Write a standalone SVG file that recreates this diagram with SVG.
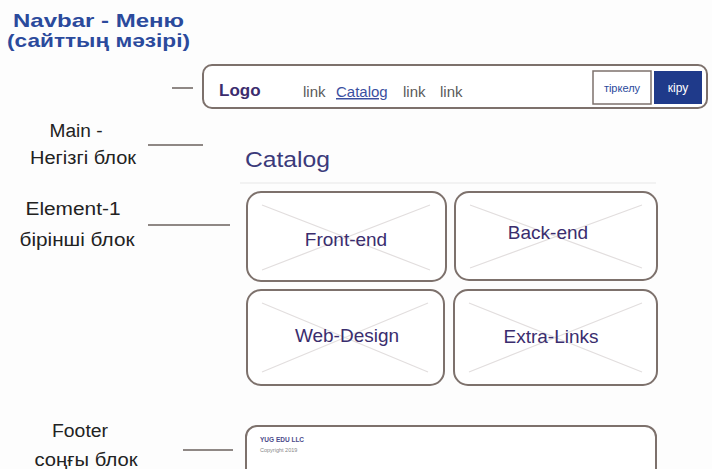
<svg xmlns="http://www.w3.org/2000/svg" width="712" height="469" viewBox="0 0 712 469">
<style>
.box{fill:#fff;stroke:#7d716c;stroke-width:2}
.x{stroke:#e2dede;stroke-width:1.2}
.lbl{font-family:"Liberation Sans",Arial,sans-serif;font-size:18px;fill:#222;text-anchor:middle}
.card{font-family:"Liberation Sans",Arial,sans-serif;font-size:19px;fill:#3a2d6e;text-anchor:middle}
.link{font-family:"Liberation Sans",Arial,sans-serif;font-size:15px;fill:#5a5a5a}
.conn{stroke:#6a605c;stroke-width:1.5}
.ttl{font-family:"Liberation Sans",Arial,sans-serif;font-size:19px;font-weight:bold;fill:#2b4a9c}
</style>
<rect width="712" height="469" fill="#fdfdfd"/>
<g id="title">
<text class="ttl" x="13" y="27" textLength="171" lengthAdjust="spacingAndGlyphs">Navbar - Меню</text>
<text class="ttl" x="7" y="47" textLength="183" lengthAdjust="spacingAndGlyphs">(сайттың мәзірі)</text>
</g>
<g id="navbar">
<rect class="box" x="203" y="65" width="504" height="43" rx="9"/>
<text x="219" y="96" font-family="Liberation Sans,Arial,sans-serif" font-size="17" font-weight="bold" fill="#3b2c6e">Logo</text>
<text class="link" x="303" y="97">link</text>
<text class="link" x="336" y="97" style="fill:#3a4fa0" text-decoration="underline">Catalog</text>
<text class="link" x="403" y="97">link</text>
<text class="link" x="440" y="97">link</text>
<rect x="593" y="71" width="58" height="33" fill="#fff" stroke="#7d716c" stroke-width="1.5"/>
<text x="622" y="92" font-family="Liberation Sans,Arial,sans-serif" font-size="11" fill="#2b4a9c" text-anchor="middle">тіркелу</text>
<rect x="654" y="71" width="48" height="33" fill="#1f3a8a"/>
<text x="678" y="92" font-family="Liberation Sans,Arial,sans-serif" font-size="12" fill="#fff" text-anchor="middle">кіру</text>
</g>
<g id="main-label">
<text class="lbl" x="76" y="137" textLength="53" lengthAdjust="spacingAndGlyphs">Main -</text>
<text class="lbl" x="83" y="164" textLength="106" lengthAdjust="spacingAndGlyphs">Негізгі блок</text>
</g>
<g id="main">
<text x="245" y="167" font-family="Liberation Sans,Arial,sans-serif" font-size="22" fill="#3b3a7a" textLength="85" lengthAdjust="spacingAndGlyphs">Catalog</text>
<line x1="240" y1="183" x2="656" y2="183" stroke="#eee" stroke-width="1.5"/>
</g>
<g id="element-label">
<text class="lbl" x="73" y="215" textLength="95" lengthAdjust="spacingAndGlyphs">Element-1</text>
<text class="lbl" x="77" y="246" textLength="115" lengthAdjust="spacingAndGlyphs">бірінші блок</text>
</g>
<g id="front-end">
<rect class="box" x="247" y="192" width="199" height="89" rx="14"/>
<line class="x" x1="262" y1="205" x2="430" y2="270"/><line class="x" x1="430" y1="205" x2="262" y2="270"/>
<text class="card" x="346" y="246">Front-end</text>
</g>
<g id="back-end">
<rect class="box" x="455" y="192" width="202" height="88" rx="14"/>
<line class="x" x1="470" y1="205" x2="642" y2="268"/><line class="x" x1="642" y1="205" x2="470" y2="268"/>
<text class="card" x="548" y="239">Back-end</text>
</g>
<g id="web-design">
<rect class="box" x="247" y="290" width="197" height="95" rx="14"/>
<line class="x" x1="262" y1="303" x2="428" y2="372"/><line class="x" x1="428" y1="303" x2="262" y2="372"/>
<text class="card" x="347" y="342">Web-Design</text>
</g>
<g id="extra-links">
<rect class="box" x="454" y="290" width="203" height="95" rx="14"/>
<line class="x" x1="469" y1="303" x2="642" y2="372"/><line class="x" x1="642" y1="303" x2="469" y2="372"/>
<text class="card" x="551" y="343">Extra-Links</text>
</g>
<g id="footer-label">
<text class="lbl" x="80" y="437" textLength="56" lengthAdjust="spacingAndGlyphs">Footer</text>
<text class="lbl" x="86" y="466" textLength="103" lengthAdjust="spacingAndGlyphs">соңғы блок</text>
</g>
<g id="footer">
<rect class="box" x="246" y="426" width="410" height="56" rx="11"/>
<text x="260" y="442" font-family="Liberation Sans,Arial,sans-serif" font-size="6.5" font-weight="bold" fill="#4a4a8a">YUG EDU LLC</text>
<text x="260" y="452" font-family="Liberation Sans,Arial,sans-serif" font-size="5.5" fill="#888">Copyright 2019</text>
</g>
<g id="connectors">
<line class="conn" x1="172" y1="88" x2="193" y2="88"/>
<line class="conn" x1="148" y1="145" x2="203" y2="145"/>
<line class="conn" x1="148" y1="225" x2="230" y2="225"/>
<line class="conn" x1="183" y1="450" x2="233" y2="450"/>
</g>
</svg>
